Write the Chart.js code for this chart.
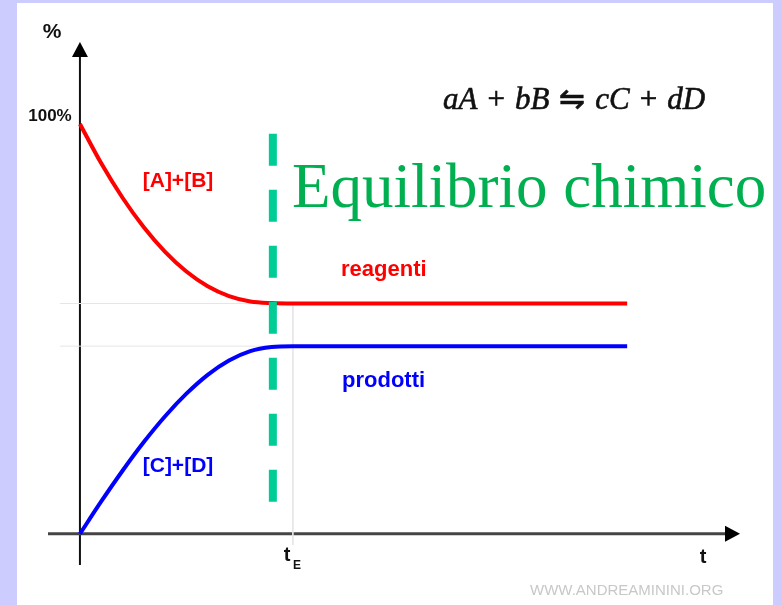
<!DOCTYPE html>
<html>
<head>
<meta charset="utf-8">
<script src="https://cdn.jsdelivr.net/npm/chart.js@4"></script>
<style>
  html, body { margin: 0; padding: 0; background: #ccccff; }
  #wrap { width: 782px; height: 605px; }
</style>
</head>
<body>
<div id="wrap"><canvas id="chart" width="782" height="605"></canvas></div>
<script>
// time (t) in arbitrary units, t_E = 10
const times = [0, 1, 2, 3, 4, 5, 6, 7, 8, 9, 10, 25.7]
// concentrations in %
const reagenti = [100, 90.4, 82.0, 74.8, 68.8, 64.0, 60.4, 58.0, 56.7, 56.3, 56.2, 56.2]
const prodotti = [0, 7.9, 15.4, 22.4, 28.7, 34.2, 38.8, 42.3, 44.6, 45.6, 45.8, 45.8]

const tE = 10
const tLine = 9.06           // dashed green marker
const dashTop = 97.6
const dashBottom = 7.8
const guideLeft = -0.94
const guideBottom = -2.7

const pts = (xs, ys) => xs.map((x, i) => ({ x: x, y: ys[i] }))

const decor = {
  id: "decor",
  beforeDraw(chart) {
    const ctx = chart.ctx
    ctx.save()
    ctx.fillStyle = "#ccccff"
    ctx.fillRect(0, 0, chart.width, chart.height)
    ctx.fillStyle = "#ffffff"
    ctx.fillRect(17, 3, 756, chart.height - 3)
    ctx.restore()
  },
  beforeDatasetsDraw(chart) {
    const { ctx, chartArea, scales: { x, y } } = chart
    const x0 = x.getPixelForValue(0)
    const y0 = y.getPixelForValue(0)
    ctx.save()
    // y axis
    ctx.strokeStyle = "#111"
    ctx.lineWidth = 2
    ctx.beginPath()
    ctx.moveTo(x0, chartArea.bottom)
    ctx.lineTo(x0, chartArea.top + 14)
    ctx.stroke()
    ctx.fillStyle = "#000"
    ctx.beginPath()
    ctx.moveTo(x0, chartArea.top)
    ctx.lineTo(x0 - 8, chartArea.top + 15)
    ctx.lineTo(x0 + 8, chartArea.top + 15)
    ctx.closePath()
    ctx.fill()
    // x axis
    ctx.strokeStyle = "#444"
    ctx.lineWidth = 3
    ctx.beginPath()
    ctx.moveTo(chartArea.left, y0)
    ctx.lineTo(chartArea.right - 14, y0)
    ctx.stroke()
    ctx.fillStyle = "#000"
    ctx.beginPath()
    ctx.moveTo(chartArea.right, y0)
    ctx.lineTo(chartArea.right - 15, y0 - 8)
    ctx.lineTo(chartArea.right - 15, y0 + 8)
    ctx.closePath()
    ctx.fill()
    ctx.restore()
  },
  afterDraw(chart) {
    const ctx = chart.ctx
    ctx.save()
    ctx.textBaseline = "middle"
    ctx.textAlign = "center"
    ctx.fillStyle = "#111"
    ctx.font = "bold 21px 'Liberation Sans', Arial, sans-serif"
    ctx.fillText("%", 52, 32)
    ctx.font = "bold 17px 'Liberation Sans', Arial, sans-serif"
    ctx.fillText("100%", 50, 116)
    ctx.font = "bold 20px 'Liberation Sans', Arial, sans-serif"
    ctx.fillText("t", 703, 557)
    ctx.fillText("t", 287, 555)
    ctx.font = "bold 12px 'Liberation Sans', Arial, sans-serif"
    ctx.fillText("E", 297, 566)

    ctx.font = "bold 21px 'Liberation Sans', Arial, sans-serif"
    ctx.fillStyle = "#ff0000"
    ctx.fillText("[A]+[B]", 178, 181)
    ctx.fillStyle = "#0000ff"
    ctx.fillText("[C]+[D]", 178, 466)
    ctx.font = "bold 22px 'Liberation Sans', Arial, sans-serif"
    ctx.textAlign = "left"
    ctx.fillStyle = "#ff0000"
    ctx.fillText("reagenti", 341, 270)
    ctx.fillStyle = "#0000ff"
    ctx.fillText("prodotti", 342, 381)

    ctx.fillStyle = "#00b050"
    ctx.textBaseline = "alphabetic"
    ctx.font = "63px 'Liberation Serif', 'Times New Roman', serif"
    ctx.fillText("Equilibrio chimico", 292, 207)

    // formula, math-style spacing around the operators
    const parts = [["a", 1], ["A", 1], ["+", 0], ["b", 1], ["B", 1], ["\u21CB", 0],
                   ["c", 1], ["C", 1], ["+", 0], ["d", 1], ["D", 1]]
    ctx.fillStyle = "#111"
    ctx.strokeStyle = "#111"
    ctx.lineWidth = 0.6
    let fx = 443
    parts.forEach(([s, it]) => {
      ctx.font = (it ? "italic " : "") + "31px 'Liberation Serif', serif"
      if (!it) fx += 10
      ctx.fillText(s, fx, 109)
      ctx.strokeText(s, fx, 109)
      fx += ctx.measureText(s).width + (it ? 0 : 10)
    })

    ctx.textBaseline = "middle"
    ctx.fillStyle = "#c8c8c8"
    ctx.font = "15px 'Liberation Sans', Arial, sans-serif"
    ctx.fillText("WWW.ANDREAMININI.ORG", 530, 591)
    ctx.restore()
  }
}

new Chart("chart", {
  type: "line",
  data: {
    datasets: [
      {
        data: pts([tLine, tLine], [dashTop, dashBottom]),
        borderColor: "rgb(0, 204, 150)",
        borderWidth: 8,
        borderDash: [32, 24],
        borderCapStyle: "butt",
        pointRadius: 0,
        order: 0
      },
      {
        label: "reagenti",
        data: pts(times, reagenti),
        borderColor: "#ff0000",
        borderWidth: 4,
        cubicInterpolationMode: "monotone",
        pointRadius: 0,
        order: 1
      },
      {
        label: "prodotti",
        data: pts(times, prodotti),
        borderColor: "#0000ff",
        borderWidth: 4,
        cubicInterpolationMode: "monotone",
        pointRadius: 0,
        order: 1
      },
      {
        data: pts([guideLeft, tE], [reagenti[10], reagenti[10]]),
        borderColor: "#e6e6e6",
        borderWidth: 1,
        pointRadius: 0,
        order: 3
      },
      {
        data: pts([guideLeft, tE], [prodotti[10], prodotti[10]]),
        borderColor: "#e6e6e6",
        borderWidth: 1,
        pointRadius: 0,
        order: 3
      },
      {
        data: pts([tE, tE], [reagenti[10], guideBottom]),
        borderColor: "#e6e6e6",
        borderWidth: 1,
        pointRadius: 0,
        order: 3
      }
    ]
  },
  options: {
    responsive: false,
    animation: false,
    layout: { padding: { left: 48, right: 42, top: 42, bottom: 40 } },
    plugins: { legend: { display: false }, tooltip: { enabled: false } },
    scales: {
      x: { type: "linear", min: -1.5, max: 31, display: false },
      y: { min: -7.6, max: 120, display: false }
    }
  },
  plugins: [decor]
});
</script>
</body>
</html>
